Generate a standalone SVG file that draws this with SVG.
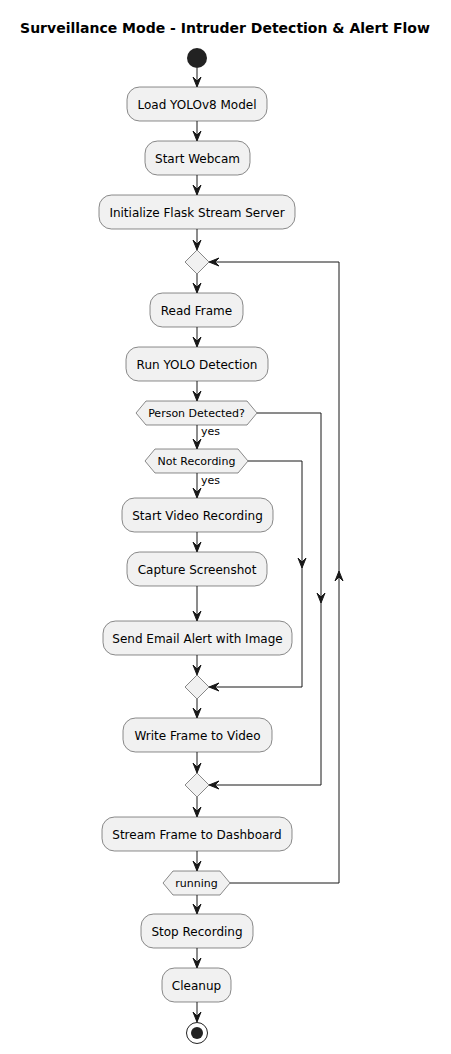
<svg xmlns="http://www.w3.org/2000/svg" xmlns:xlink="http://www.w3.org/1999/xlink" width="451" height="1054" viewBox="0 0 451 1054">
<style>
.box{fill:#F1F1F1;stroke:#181818;stroke-width:0.5}
.t{font-family:"DejaVu Sans",sans-serif;font-size:12px;fill:#000;text-anchor:middle}
.c{font-family:"DejaVu Sans",sans-serif;font-size:11px;fill:#000;text-anchor:middle}
.l{font-family:"DejaVu Sans",sans-serif;font-size:11px;fill:#000}
.ln{fill:none;stroke:#181818;stroke-width:1}
.ah{fill:#181818;stroke:#181818;stroke-width:1}
</style>
<defs>
<polygon id="ah" class="ah" points="0,0 -4,-10 0,-6 4,-10"/>
</defs>
<rect width="451" height="1054" fill="#FFFFFF"/>
<text x="225" y="33" font-family="'DejaVu Sans',sans-serif" font-size="14" font-weight="bold" text-anchor="middle">Surveillance Mode - Intruder Detection &amp; Alert Flow</text>

<g id="connectors">
<line class="ln" x1="197" y1="68" x2="197" y2="86"/><use href="#ah" transform="translate(197,87)"/>
<line class="ln" x1="197" y1="121" x2="197" y2="140"/><use href="#ah" transform="translate(197,141)"/>
<line class="ln" x1="197" y1="175" x2="197" y2="194"/><use href="#ah" transform="translate(197,195)"/>
<line class="ln" x1="197" y1="229" x2="197" y2="249"/><use href="#ah" transform="translate(197,250)"/>
<line class="ln" x1="197" y1="274" x2="197" y2="292"/><use href="#ah" transform="translate(197,293)"/>
<line class="ln" x1="197" y1="327" x2="197" y2="346"/><use href="#ah" transform="translate(197,347)"/>
<line class="ln" x1="197" y1="381" x2="197" y2="400"/><use href="#ah" transform="translate(197,401)"/>
<line class="ln" x1="197" y1="425" x2="197" y2="448"/><use href="#ah" transform="translate(197,449)"/>
<line class="ln" x1="197" y1="473" x2="197" y2="497"/><use href="#ah" transform="translate(197,498)"/>
<line class="ln" x1="197" y1="532" x2="197" y2="551"/><use href="#ah" transform="translate(197,552)"/>
<line class="ln" x1="197" y1="586" x2="197" y2="620"/><use href="#ah" transform="translate(197,621)"/>
<line class="ln" x1="197" y1="655" x2="197" y2="674"/><use href="#ah" transform="translate(197,675)"/>
<line class="ln" x1="197" y1="699" x2="197" y2="717"/><use href="#ah" transform="translate(197,718)"/>
<line class="ln" x1="197" y1="752" x2="197" y2="772"/><use href="#ah" transform="translate(197,773)"/>
<line class="ln" x1="197" y1="797" x2="197" y2="816"/><use href="#ah" transform="translate(197,817)"/>
<line class="ln" x1="197" y1="851" x2="197" y2="870"/><use href="#ah" transform="translate(197,871)"/>
<line class="ln" x1="197" y1="895" x2="197" y2="913"/><use href="#ah" transform="translate(197,914)"/>
<line class="ln" x1="197" y1="948" x2="197" y2="967"/><use href="#ah" transform="translate(197,968)"/>
<line class="ln" x1="197" y1="1002" x2="197" y2="1021"/><use href="#ah" transform="translate(197,1022)"/>
<!-- Not Recording else branch -->
<polyline class="ln" points="248,461 302,461 302,687 210,687"/>
<use href="#ah" transform="translate(302,568)"/>
<use href="#ah" transform="translate(209,687) rotate(90)"/>
<!-- Person Detected else branch -->
<polyline class="ln" points="257,413 321,413 321,785 210,785"/>
<use href="#ah" transform="translate(321,603)"/>
<use href="#ah" transform="translate(209,785) rotate(90)"/>
<!-- loop back -->
<polyline class="ln" points="230,883 339,883 339,262 210,262"/>
<use href="#ah" transform="translate(339,571) rotate(180)"/>
<use href="#ah" transform="translate(209,262) rotate(90)"/>
<text class="l" x="201" y="435">yes</text>
<text class="l" x="201" y="484">yes</text>
</g>

<g id="start"><circle cx="197" cy="58" r="10" fill="#222222"/></g>
<g id="load"><rect class="box" x="127" y="87" width="140" height="34" rx="12.5"/><text class="t" x="197" y="108.5">Load YOLOv8 Model</text></g>
<g id="webcam"><rect class="box" x="145" y="141" width="105" height="34" rx="12.5"/><text class="t" x="197.5" y="162.5">Start Webcam</text></g>
<g id="flask"><rect class="box" x="99" y="195" width="196" height="34" rx="12.5"/><text class="t" x="197" y="216.5">Initialize Flask Stream Server</text></g>
<g id="merge1"><polygon class="box" points="197,250 209,262 197,274 185,262"/></g>
<g id="read"><rect class="box" x="150" y="293" width="93" height="34" rx="12.5"/><text class="t" x="196.5" y="314.5">Read Frame</text></g>
<g id="yolo"><rect class="box" x="126" y="347" width="142" height="34" rx="12.5"/><text class="t" x="197" y="368.5">Run YOLO Detection</text></g>
<g id="person"><polygon class="box" points="136,413 146,401 247,401 257,413 247,425 146,425"/><text class="c" x="196.5" y="417">Person Detected?</text></g>
<g id="notrec"><polygon class="box" points="145,461 155,449 238,449 248,461 238,473 155,473"/><text class="c" x="196.5" y="465">Not Recording</text></g>
<g id="startrec"><rect class="box" x="122" y="498" width="151" height="34" rx="12.5"/><text class="t" x="197.5" y="519.5">Start Video Recording</text></g>
<g id="capture"><rect class="box" x="127" y="552" width="140" height="34" rx="12.5"/><text class="t" x="197" y="573.5">Capture Screenshot</text></g>
<g id="email"><rect class="box" x="103" y="621" width="189" height="34" rx="12.5"/><text class="t" x="197.5" y="642.5">Send Email Alert with Image</text></g>
<g id="merge2"><polygon class="box" points="197,675 209,687 197,699 185,687"/></g>
<g id="write"><rect class="box" x="123" y="718" width="149" height="34" rx="12.5"/><text class="t" x="197.5" y="739.5">Write Frame to Video</text></g>
<g id="merge3"><polygon class="box" points="197,773 209,785 197,797 185,785"/></g>
<g id="stream"><rect class="box" x="102" y="817" width="190" height="34" rx="12.5"/><text class="t" x="197" y="838.5">Stream Frame to Dashboard</text></g>
<g id="running"><polygon class="box" points="163,883 173,871 220,871 230,883 220,895 173,895"/><text class="c" x="196.5" y="887">running</text></g>
<g id="stop"><rect class="box" x="141" y="914" width="112" height="34" rx="12.5"/><text class="t" x="197" y="935.5">Stop Recording</text></g>
<g id="cleanup"><rect class="box" x="162" y="968" width="69" height="34" rx="12.5"/><text class="t" x="196.5" y="989.5">Cleanup</text></g>
<g id="end"><circle cx="197" cy="1033" r="10.5" fill="none" stroke="#222222" stroke-width="1"/><circle cx="197" cy="1033" r="6" fill="#222222"/></g>
</svg>
